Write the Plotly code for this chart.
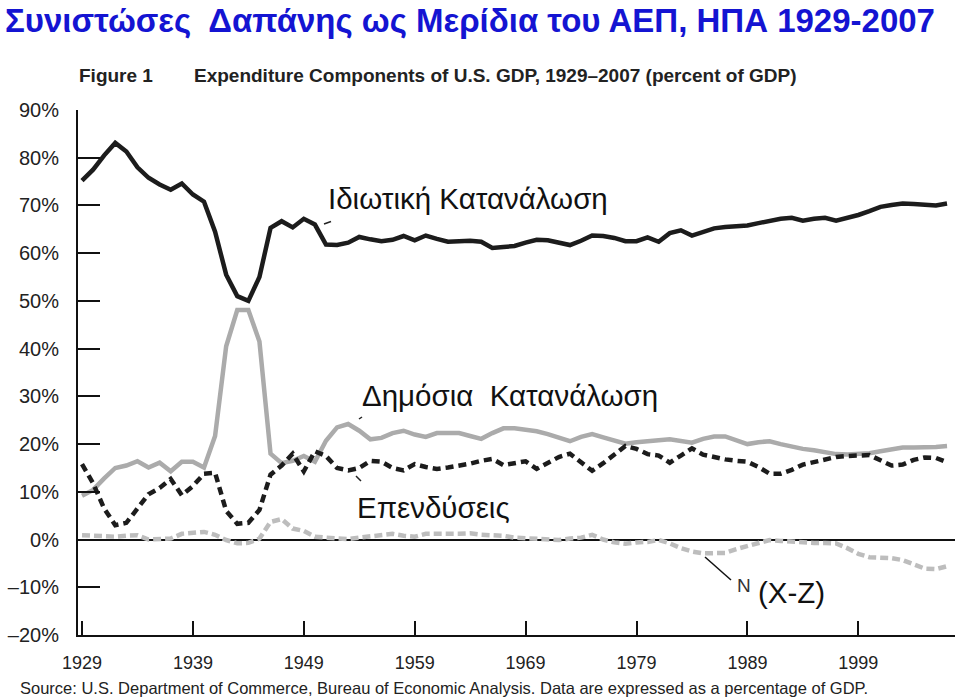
import plotly.graph_objects as go

years = list(range(1929, 2008))

private_consumption = [
    75.2, 77.5, 80.5, 83.1, 81.3, 78.0, 75.8, 74.4, 73.3, 74.6,
    72.3, 70.8, 64.5, 55.5, 51.0, 50.0, 55.0, 65.3, 66.7, 65.4,
    67.2, 66.0, 61.8, 61.7, 62.2, 63.4, 62.9, 62.5, 62.8, 63.6,
    62.7, 63.7, 63.0, 62.4, 62.5, 62.6, 62.4, 61.1, 61.3, 61.5,
    62.2, 62.8, 62.7, 62.2, 61.7, 62.6, 63.7, 63.6, 63.2, 62.5,
    62.5, 63.3, 62.4, 64.2, 64.8, 63.7, 64.5, 65.2, 65.5, 65.7,
    65.8, 66.3, 66.8, 67.2, 67.4, 66.8, 67.2, 67.4, 66.8, 67.3,
    68.0, 68.8, 69.7, 70.1, 70.4, 70.3, 70.1, 70.0, 70.4,
]

government_consumption = [
    9.2, 10.4, 12.8, 15.0, 15.5, 16.4, 15.1, 16.1, 14.3, 16.3,
    16.3, 15.1, 21.7, 40.5, 48.1, 48.1, 41.5, 18.0, 16.0, 16.5,
    17.5, 16.3, 20.7, 23.5, 24.2, 22.8, 21.0, 21.3, 22.3, 22.8,
    22.0, 21.5, 22.3, 22.3, 22.3, 21.7, 21.1, 22.3, 23.3, 23.3,
    23.0, 22.7, 22.1, 21.4, 20.6, 21.5, 22.1, 21.4, 20.8, 20.1,
    20.4, 20.7, 20.8, 21.0, 20.6, 20.3, 21.1, 21.6, 21.6, 20.9,
    20.0, 20.4, 20.6, 20.0, 19.4, 19.0, 18.7, 18.3, 17.9, 17.8,
    17.9, 18.1, 18.5, 18.9, 19.3, 19.3, 19.3, 19.4, 19.6,
]

investment = [
    15.8, 11.8, 6.5, 3.0, 3.5, 6.5, 9.5, 10.8, 12.7, 9.3,
    11.2, 13.8, 14.0, 6.0, 3.3, 3.5, 6.2, 13.6, 15.5, 18.0,
    14.3, 18.5, 17.5, 15.0, 14.5, 15.0, 16.5, 16.3, 15.0, 14.5,
    15.8, 15.2, 14.8, 15.1, 15.4, 15.9, 16.5, 16.9, 15.6, 15.9,
    16.4, 14.8, 16.0, 17.3, 18.0, 16.2, 14.4, 16.0, 17.8, 19.6,
    19.0, 17.9, 17.6, 16.1, 17.6, 19.1, 17.8, 17.2, 16.8, 16.5,
    16.3, 15.2, 13.8, 13.8, 14.6, 15.7, 16.3, 16.9, 17.3, 17.5,
    17.6, 17.7, 16.6, 15.5, 15.7, 16.7, 17.2, 17.1, 16.2,
]

net_exports = [
    0.9, 0.8, 0.6, 0.6, 0.8, 0.9, 0.0, 0.1, 0.2, 1.2,
    1.4, 1.6, 1.0, -0.1, -0.8, -0.7, 0.2, 3.7, 4.3, 2.3,
    1.8, 0.6, 0.4, 0.2, 0.1, 0.4, 0.7, 1.1, 1.2, 0.8,
    0.6, 1.2, 1.3, 1.2, 1.2, 1.3, 1.0, 0.9, 0.8, 0.4,
    0.3, 0.3, 0.1, -0.1, 0.2, 0.4, 1.0, 0.0, -0.6, -0.9,
    -0.6, -0.5, -0.1, -0.8, -1.8, -2.5, -2.9, -2.9, -2.8, -2.0,
    -1.3, -0.7, -0.1, -0.3, -0.5, -0.6, -0.7, -0.7, -0.8, -1.8,
    -3.0, -3.7, -3.8, -3.9, -4.3, -5.2, -6.1, -6.2, -5.6,
]

x_tick_years = [1929, 1939, 1949, 1959, 1969, 1979, 1989, 1999]
x_tick_labels = ["1929", "1939", "1949", "1959", "1969", "1979", "1989", "1999"]
y_tick_values = [-20, -10, 0, 10, 20, 30, 40, 50, 60, 70, 80, 90]
y_tick_labels = ["\u201320%", "\u201310%", "0%", "10%", "20%", "30%", "40%",
                 "50%", "60%", "70%", "80%", "90%"]

main_title = "Συνιστώσες  Δαπάνης ως Μερίδια του ΑΕΠ, ΗΠΑ 1929-2007"
fig_label = "Figure 1"
fig_subtitle = "Expenditure Components of U.S. GDP, 1929\u20132007 (percent of GDP)"
source_text = ("Source: U.S. Department of Commerce, Bureau of Economic Analysis. "
               "Data are expressed as a percentage of GDP.")
label_c = "Ιδιωτική Κατανάλωση"
label_g = "Δημόσια \u00a0Κατανάλωση"
label_i = "Επενδύσεις"
label_nx = "(X-Z)"

SANS = "Liberation Sans, Arial, Helvetica, sans-serif"

fig = go.Figure()
fig.add_trace(go.Scatter(x=years, y=net_exports, mode="lines",
                         line=dict(color="#bdbdbd", width=4.5, dash="8px,4px"),
                         hoverinfo="skip"))
fig.add_trace(go.Scatter(x=years, y=government_consumption, mode="lines",
                         line=dict(color="#ababab", width=4.5),
                         hoverinfo="skip"))
fig.add_trace(go.Scatter(x=years, y=investment, mode="lines",
                         line=dict(color="#1c1c1c", width=4.5, dash="8px,5px"),
                         hoverinfo="skip"))
fig.add_trace(go.Scatter(x=years, y=private_consumption, mode="lines",
                         line=dict(color="#1c1c1c", width=4.5),
                         hoverinfo="skip"))

L, R, T, B = 78, 5, 110, 64
W, H = 960, 699
pw = W - L - R
ph = H - T - B


def px(xp):
    return (xp - L) / pw


def py(yp):
    return (H - B - yp) / ph


annotations = [
    dict(text="<b>" + main_title + "</b>", x=px(3), y=py(0), xanchor="left", yanchor="top",
         font=dict(family=SANS, size=33, color="#1414d2")),
    dict(text="<b>" + fig_label + "</b>", x=px(77), y=py(75), xanchor="left", yanchor="middle",
         font=dict(family=SANS, size=19, color="#222222")),
    dict(text="<b>" + fig_subtitle + "</b>", x=px(192), y=py(75), xanchor="left", yanchor="middle",
         font=dict(family=SANS, size=19, color="#222222")),
    dict(text=source_text, x=px(18), y=py(688), xanchor="left", yanchor="middle",
         font=dict(family=SANS, size=16.5, color="#222222")),
    dict(text=label_c, x=px(326), y=py(198), xanchor="left", yanchor="middle",
         font=dict(family=SANS, size=29.5, color="#111111")),
    dict(text=label_g, x=px(360), y=py(395), xanchor="left", yanchor="middle",
         font=dict(family=SANS, size=29.5, color="#111111")),
    dict(text=label_i, x=px(355), y=py(507), xanchor="left", yanchor="middle",
         font=dict(family=SANS, size=29.5, color="#111111")),
    dict(text=label_nx, x=px(756), y=py(592), xanchor="left", yanchor="middle",
         font=dict(family=SANS, size=29.5, color="#111111")),
    dict(text="N", x=px(735), y=py(585), xanchor="left", yanchor="middle",
         font=dict(family=SANS, size=19, color="#333333")),
]
for a in annotations:
    a.update(xref="paper", yref="paper", showarrow=False)

shapes = [
    dict(type="line", x0=px(705), y0=py(557), x1=px(731), y1=py(580),
         line=dict(color="#111111", width=1.5)),
    dict(type="line", x0=px(324), y0=py(224), x1=px(331), y1=py(221.5),
         line=dict(color="#222222", width=1.5)),
    dict(type="line", x0=px(359), y0=py(419), x1=px(362), y1=py(417),
         line=dict(color="#222222", width=1.5)),
    dict(type="line", x0=px(356), y0=py(476), x1=px(361), y1=py(481),
         line=dict(color="#222222", width=1.5)),
]
for s in shapes:
    s.update(xref="paper", yref="paper")

px_per_year = 11.09
x0 = 1929 - 4 / px_per_year
x1 = x0 + pw / px_per_year

fig.update_layout(
    width=W, height=H,
    margin=dict(l=L, r=R, t=T, b=B, pad=0),
    paper_bgcolor="white", plot_bgcolor="white",
    showlegend=False,
    annotations=annotations,
    shapes=shapes,
    xaxis=dict(
        range=[x0, x1], tickmode="array", tickvals=x_tick_years, ticktext=x_tick_labels,
        ticks="inside", ticklen=14, tickwidth=2, tickcolor="#111111",
        showline=True, linecolor="#111111", linewidth=2,
        showgrid=False, zeroline=False,
        tickfont=dict(family=SANS, size=18, color="#222222"),
        ticklabelstandoff=10,
    ),
    yaxis=dict(
        range=[-20, 90], tickmode="array", tickvals=y_tick_values, ticktext=y_tick_labels,
        ticks="inside", ticklen=22, tickwidth=2, tickcolor="#111111",
        showline=True, linecolor="#111111", linewidth=2,
        showgrid=False, zeroline=True, zerolinecolor="#111111", zerolinewidth=1.5,
        tickfont=dict(family=SANS, size=20, color="#222222"),
        ticklabelstandoff=13,
    ),
)

fig.write_html(
    "out.html",
    config={"displayModeBar": False},
    post_script="document.body.style.margin='0';document.body.style.overflow='hidden';",
)
